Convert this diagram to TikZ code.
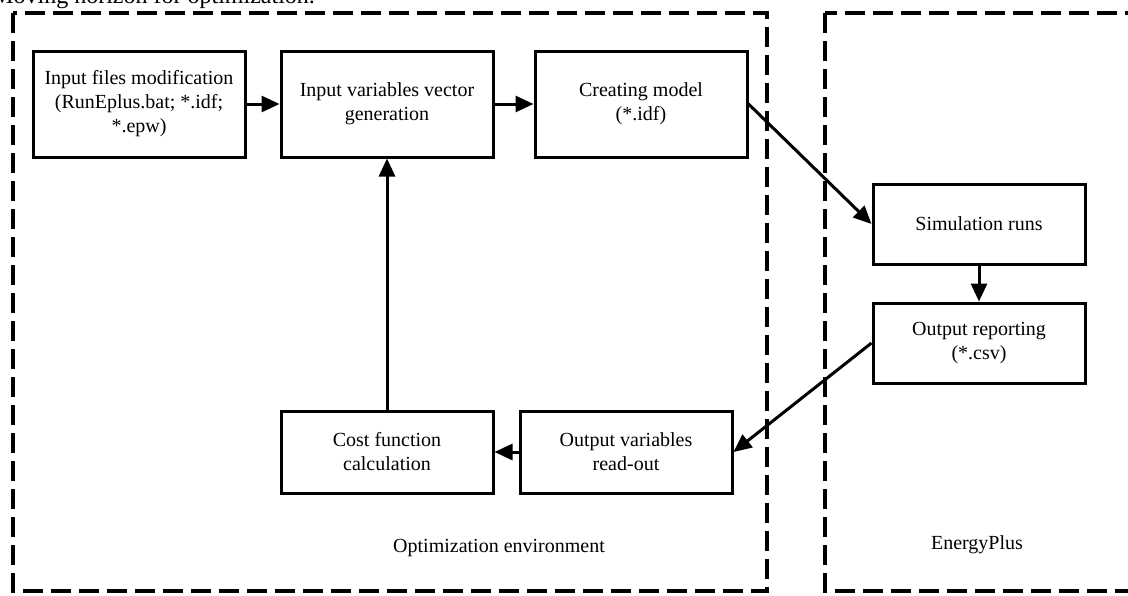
\documentclass[tikz,border=0pt]{standalone}
\usepackage{fontspec}
\setmainfont{Liberation Serif}
\usetikzlibrary{arrows.meta}
\begin{document}
\begin{tikzpicture}[x=0.5pt,y=-0.5pt]
\tikzstyle{every node}=[font=\fontsize{10}{12}\selectfont]
\tikzstyle{blk}=[draw, line width=1.5pt, minimum width=106pt, minimum height=53pt, align=center, inner sep=0pt]
\tikzstyle{env}=[line width=2pt, dash pattern=on 10pt off 4pt]
\tikzstyle{flow}=[line width=1.5pt, -{Triangle[length=9pt,width=8pt]}]
	\useasboundingbox (0,0) rectangle (1128,595);
	\clip (0,0) rectangle (1128,595);
	\node[anchor=base east, font=\fontsize{12}{14}\selectfont] (cap) at (322,3) {Moving horizon for optimization.};

	% environments
	\draw[env] (13,13) rectangle (767,591);
	\draw[env] (825,13) rectangle (1135,591);
	\node (optenv) at (499,548) {Optimization environment};
	\node (eplus) at (977,545) {EnergyPlus};

	% blocks
	\node[blk] (infiles) at (139,104) {Input files modification\\(RunEplus.bat; *.idf;\\*.epw)};
	\node[blk] (invars) at (387,104) {Input variables vector\\generation};
	\node[blk] (model) at (641,104) {Creating model\\(*.idf)};
	\node[blk, minimum height=40pt] (sim) at (979,224) {Simulation runs};
	\node[blk, minimum height=40pt] (report) at (979,343) {Output reporting\\(*.csv)};
	\node[blk, minimum height=41pt] (outvars) at (626,452) {Output variables\\read-out};
	\node[blk, minimum height=41pt] (cost) at (387,452) {Cost function\\calculation};

	% connections
	\draw[flow] (infiles) -- (invars);
	\draw[flow] (invars) -- (model);
	\draw[flow] (model.east) -- (sim.west);
	\draw[flow] (sim) -- (report);
	\draw[flow] (report.west) -- (outvars.east);
	\draw[flow] (outvars) -- (cost);
	\draw[flow] (cost) -- (invars);
\end{tikzpicture}
\end{document}
